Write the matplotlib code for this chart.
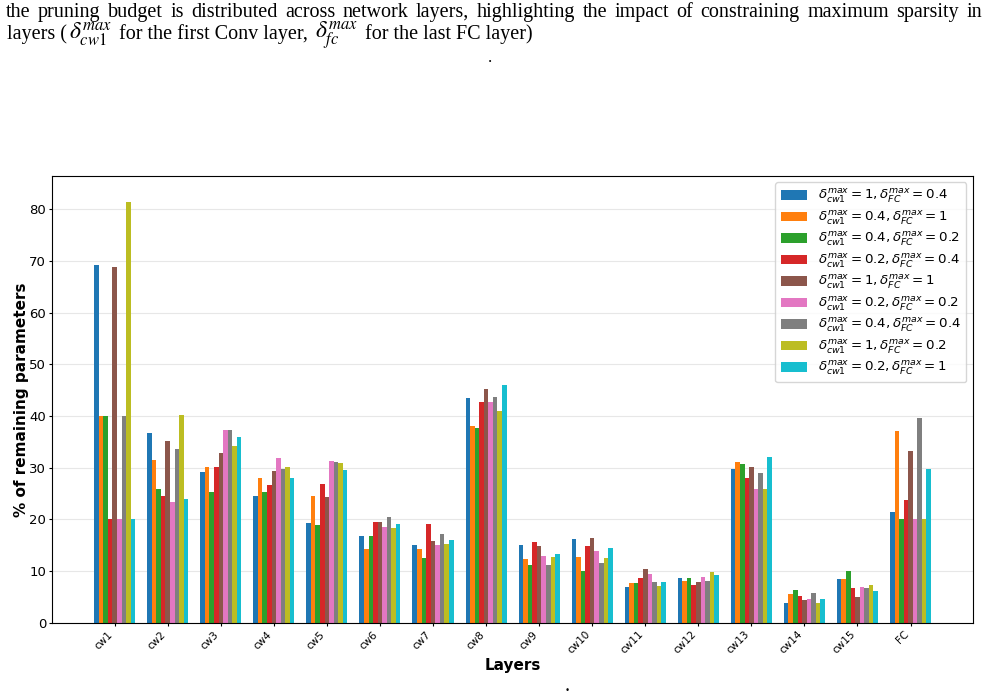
# grouped bars: share of remaining parameters per layer, for each sparsity setting
import numpy as np
import matplotlib.pyplot as plt

layers = ['cw1', 'cw2', 'cw3', 'cw4', 'cw5', 'cw6', 'cw7', 'cw8',
          'cw9', 'cw10', 'cw11', 'cw12', 'cw13', 'cw14', 'cw15', 'FC']

labels = [
    r'$\delta_{cw1}^{max} = 1, \delta_{FC}^{max} = 0.4$',
    r'$\delta_{cw1}^{max} = 0.4, \delta_{FC}^{max} = 1$',
    r'$\delta_{cw1}^{max} = 0.4, \delta_{FC}^{max} = 0.2$',
    r'$\delta_{cw1}^{max} = 0.2, \delta_{FC}^{max} = 0.4$',
    r'$\delta_{cw1}^{max} = 1, \delta_{FC}^{max} = 1$',
    r'$\delta_{cw1}^{max} = 0.2, \delta_{FC}^{max} = 0.2$',
    r'$\delta_{cw1}^{max} = 0.4, \delta_{FC}^{max} = 0.4$',
    r'$\delta_{cw1}^{max} = 1, \delta_{FC}^{max} = 0.2$',
    r'$\delta_{cw1}^{max} = 0.2, \delta_{FC}^{max} = 1$',
]
colors = ['tab:blue', 'tab:orange', 'tab:green', 'tab:red', 'tab:brown',
          'tab:pink', 'tab:gray', 'tab:olive', 'tab:cyan']

# % of remaining parameters, one list per setting (same order as labels)
s_1_04 = [69.2, 36.8, 29.1, 24.5, 19.4, 16.9, 15.0, 43.5, 15.0, 16.2, 6.9, 8.7, 29.7, 3.8, 8.4, 21.4]
s_04_1 = [40.0, 31.6, 30.1, 28.1, 24.6, 14.2, 14.2, 38.1, 12.3, 12.7, 7.7, 8.1, 31.1, 5.5, 8.4, 37.2]
s_04_02 = [40.0, 25.8, 25.4, 25.4, 19.0, 16.9, 12.5, 37.7, 11.2, 10.0, 7.7, 8.7, 30.7, 6.3, 10.0, 20.0]
s_02_04 = [20.0, 24.5, 30.2, 26.6, 26.8, 19.6, 19.2, 42.8, 15.6, 14.9, 8.7, 7.3, 28.0, 5.3, 6.7, 23.7]
s_1_1 = [68.9, 35.1, 32.8, 29.3, 24.4, 19.6, 15.9, 45.3, 14.9, 16.4, 10.4, 7.9, 30.1, 4.4, 5.1, 33.3]
s_02_02 = [20.0, 23.3, 37.4, 31.8, 31.4, 18.6, 15.0, 42.8, 12.9, 13.9, 9.5, 8.9, 25.9, 4.6, 6.9, 20.0]
s_04_04 = [40.0, 33.7, 37.4, 29.7, 31.2, 20.4, 17.1, 43.7, 11.2, 11.6, 7.9, 8.1, 28.9, 5.7, 6.7, 39.7]
s_1_02 = [81.4, 40.3, 34.3, 30.2, 31.0, 18.3, 15.2, 41.0, 12.7, 12.5, 7.1, 9.8, 25.8, 3.8, 7.3, 20.0]
s_02_1 = [20.0, 23.9, 36.0, 28.1, 29.5, 19.2, 16.1, 46.0, 13.3, 14.5, 7.9, 9.3, 32.0, 4.6, 6.1, 29.8]

series = [s_1_04, s_04_1, s_04_02, s_02_04, s_1_1, s_02_02, s_04_04, s_1_02, s_02_1]

caption1 = ('the pruning budget is distributed across network layers, highlighting the impact of '
            'constraining maximum sparsity in')
caption2 = ['layers (', r'$\delta_{cw1}^{max}$', ' for the first Conv layer, ',
            r'$\delta_{fc}^{max}$', ' for the last FC layer)']

W, H = 987, 696
fig = plt.figure(figsize=(W / 100, H / 100), dpi=100)
serif = ['Liberation Serif', 'DejaVu Serif']
fs = 14.5


def ptext(px, py, s, size=fs, **kw):
    # caption pieces in pixel coordinates (from top-left)
    return fig.text(px / W, 1 - py / H, s, family=serif, fontsize=size, va='baseline', **kw)


# line 1 is justified between 6 px and 982 px
words = caption1.split()
line1 = [ptext(0, 17, wd) for wd in words]
# line 2: plain text and math pieces laid out one after the other
line2 = [ptext(0, 39, s, size=17 if s.startswith('$') else fs, math_fontfamily='stix')
         for s in caption2]
fig.canvas.draw()
r = fig.canvas.get_renderer()

widths = [t.get_window_extent(r).width for t in line1]
gap = (982 - 6 - sum(widths)) / (len(words) - 1)
pos = 6
for t, wd in zip(line1, widths):
    t.set_x(pos / W)
    pos += wd + gap

pos = 7
for t in line2:
    t.set_x(pos / W)
    pos += t.get_window_extent(r).width + 2

ptext(490, 62, '.', size=12, ha='center')
fig.text(0.575, 0.0, '.', family=serif, fontsize=fs, ha='center', va='bottom')

ax = fig.add_axes([0.053, 0.105, 0.9327, 0.6427])

x = np.arange(len(layers))
w = 0.086
for i, vals in enumerate(series):
    ax.bar(x + i * w, vals, w, color=colors[i], label=labels[i])

ax.set_xticks(x + 4 * w)
ax.set_xticklabels(layers, rotation=45, ha='right', fontsize=7.5)
ax.tick_params(axis='y', labelsize=9.5)
ax.tick_params(length=2.5, pad=2)
ax.set_ylim(0, 86.5)
ax.grid(axis='y', alpha=0.3)
ax.set_axisbelow(True)
ax.set_xlabel('Layers', fontweight='bold', fontsize=11, labelpad=2)
ax.set_ylabel('% of remaining parameters', fontweight='bold', fontsize=11, labelpad=0)
ax.legend(loc='upper right', fontsize=9.6, labelspacing=0.3)

plt.savefig('out.png', dpi=100)
